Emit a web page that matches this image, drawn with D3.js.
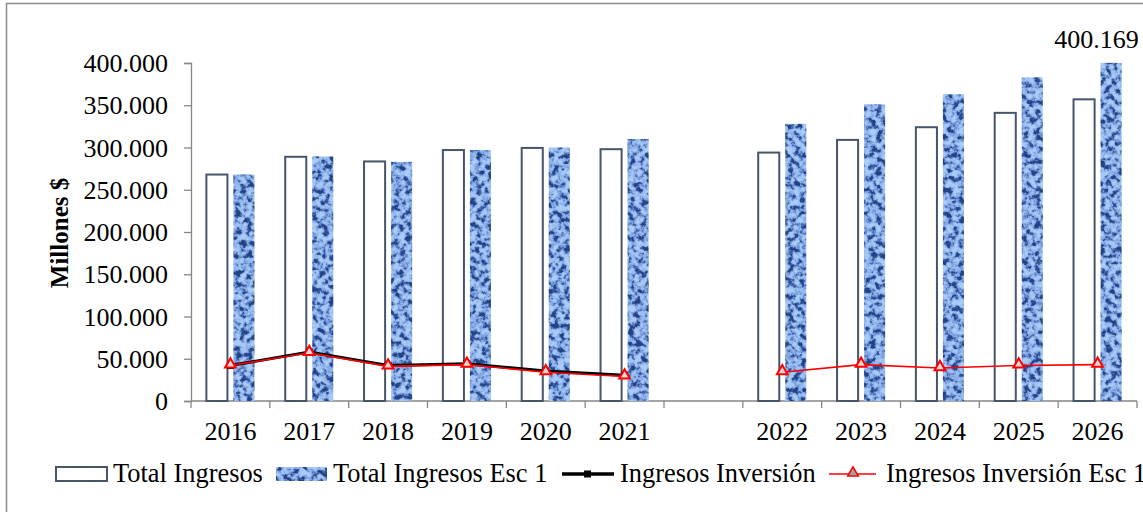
<!DOCTYPE html>
<html>
<head>
<meta charset="utf-8">
<script src="https://cdn.jsdelivr.net/npm/d3@7"></script>
<style>
  body { margin: 0; background: #fff; }
  text { font-family: "Liberation Serif", "Times New Roman", serif; fill: #000; }
</style>
</head>
<body>
<div id="chart"></div>
<script>
'use strict';

// Data
const years = ['2016', '2017', '2018', '2019', '2020', '2021', '', '2022', '2023', '2024', '2025', '2026'];
const totalIngresos = [268000, 289000, 283500, 297000, 299500, 298000, null, 294000, 309000, 324000, 341000, 357000];
const totalIngresosEsc1 = [268000, 289500, 283000, 297000, 300000, 310000, null, 328000, 351000, 363000, 383000, 400169];
const ingresosInversion = [42000, 58000, 42000, 44000, 35500, 30500, null, null, null, null, null, null];
const ingresosInversionEsc1 = [42000, 57000, 41000, 43000, 34000, 29000, null, 34000, 43000, 39000, 42000, 43000];
const yTicks = [0, 50000, 100000, 150000, 200000, 250000, 300000, 350000, 400000];
const legendLabels = ['Total Ingresos', 'Total Ingresos Esc 1', 'Ingresos Inversión', 'Ingresos Inversión Esc 1'];

// Config
const svgW = 1143, svgH = 512;
const plot = {left: 191, right: 1137, top: 63, bottom: 401};
const fontSize = '26px';
const es = d3.formatLocale({decimal: ',', thousands: '.', grouping: [3], currency: ['$', '']});
const fmt = es.format(',.0f');

const svg = d3.select('#chart').append('svg')
    .attr('width', svgW)
    .attr('height', svgH);

// Texture for the Esc 1 bars
const defs = svg.append('defs');
const f = defs.append('filter')
    .attr('id', 'tex')
    .attr('color-interpolation-filters', 'sRGB')
    .attr('x', 0).attr('y', 0).attr('width', 1).attr('height', 1);
f.append('feTurbulence')
    .attr('type', 'fractalNoise')
    .attr('baseFrequency', 0.17)
    .attr('numOctaves', 3)
    .attr('seed', 7)
    .attr('result', 'noise');
f.append('feColorMatrix')
    .attr('in', 'noise')
    .attr('type', 'matrix')
    .attr('values', '2.6 0 0 0 -0.8  2.6 0 0 0 -0.8  2.6 0 0 0 -0.8  0 0 0 0 1')
    .attr('result', 'lum');
const ct = f.append('feComponentTransfer').attr('in', 'lum').attr('result', 'col');
ct.append('feFuncR').attr('type', 'table').attr('tableValues', '0.14 0.26 0.45 0.57 0.63 0.67');
ct.append('feFuncG').attr('type', 'table').attr('tableValues', '0.26 0.39 0.60 0.71 0.76 0.80');
ct.append('feFuncB').attr('type', 'table').attr('tableValues', '0.52 0.66 0.85 0.93 0.95 0.97');
f.append('feComposite')
    .attr('in', 'col')
    .attr('in2', 'SourceGraphic')
    .attr('operator', 'in');

// Frame
svg.append('rect')
    .attr('x', 6.5).attr('y', 3.5)
    .attr('width', 1300).attr('height', 700)
    .attr('fill', 'none')
    .attr('stroke', '#8a8a8a')
    .attr('stroke-width', 1.5);

// Scales
const x = d3.scaleBand().domain(d3.range(years.length)).range([plot.left, plot.right]);
const inner = d3.scaleBand().domain([0, 1])
    .range([x.bandwidth() * 0.195, x.bandwidth() * 0.805])
    .paddingInner(0.22);
const y = d3.scaleLinear().domain([0, 400000]).range([plot.bottom, plot.top]);

// Y axis
const yAxis = svg.append('g')
    .attr('transform', `translate(${plot.left},0)`)
    .call(d3.axisLeft(y).tickValues(yTicks).tickFormat(fmt).tickSize(7).tickPadding(16));
yAxis.select('.domain').attr('stroke', '#868686').attr('stroke-width', 1.3);
yAxis.selectAll('.tick line').attr('stroke', '#868686').attr('stroke-width', 1.3);
yAxis.selectAll('.tick text')
    .style('font-family', '"Liberation Serif", serif')
    .style('font-size', fontSize)
    .attr('fill', '#000')
    .attr('dy', '0.33em');

// X axis line + boundary ticks
svg.append('line')
    .attr('x1', plot.left).attr('x2', plot.right)
    .attr('y1', plot.bottom).attr('y2', plot.bottom)
    .attr('stroke', '#868686').attr('stroke-width', 1.3);
svg.append('g').selectAll('line')
    .data(d3.range(years.length + 1))
    .join('line')
    .attr('x1', i => i < years.length ? x(i) : plot.right)
    .attr('x2', i => i < years.length ? x(i) : plot.right)
    .attr('y1', plot.bottom).attr('y2', plot.bottom + 7)
    .attr('stroke', '#868686').attr('stroke-width', 1.3);
svg.append('g').selectAll('text')
    .data(years)
    .join('text')
    .attr('x', (d, i) => x(i) + x.bandwidth() / 2)
    .attr('y', 440)
    .attr('text-anchor', 'middle')
    .style('font-size', fontSize)
    .text(d => d);

// Y axis title
svg.append('text')
    .attr('transform', 'translate(68,233) rotate(-90)')
    .attr('text-anchor', 'middle')
    .style('font-size', '25px')
    .style('font-weight', 'bold')
    .text('Millones $');

// Bars
const barsG = svg.append('g');
barsG.selectAll('.bar0')
    .data(totalIngresos.map((v, i) => ({v, i})).filter(d => d.v != null))
    .join('rect')
    .attr('class', 'bar0')
    .attr('x', d => x(d.i) + inner(0))
    .attr('y', d => y(d.v))
    .attr('width', inner.bandwidth())
    .attr('height', d => y(0) - y(d.v))
    .attr('fill', '#fff')
    .attr('stroke', '#475569')
    .attr('stroke-width', 2);
barsG.selectAll('.bar1')
    .data(totalIngresosEsc1.map((v, i) => ({v, i})).filter(d => d.v != null))
    .join('rect')
    .attr('class', 'bar1')
    .attr('x', d => x(d.i) + inner(1))
    .attr('y', d => y(d.v))
    .attr('width', inner.bandwidth())
    .attr('height', d => y(0) - y(d.v))
    .attr('fill', '#6f8fd0')
    .attr('filter', 'url(#tex)');

// Data label on last Esc 1 bar
const last = totalIngresosEsc1.length - 1;
svg.append('text')
    .attr('x', x(last) + inner(1) + inner.bandwidth() + 17)
    .attr('y', y(totalIngresosEsc1[last]) - 15)
    .attr('text-anchor', 'end')
    .style('font-size', fontSize)
    .text(fmt(totalIngresosEsc1[last]));

// Lines
const cx = i => x(i) + x.bandwidth() / 2;
const lineMaker = d3.line()
    .defined(d => d != null)
    .x((d, i) => cx(i))
    .y(d => y(d));

svg.append('path')
    .attr('d', lineMaker(ingresosInversion))
    .attr('fill', 'none')
    .attr('stroke', '#000')
    .attr('stroke-width', 3);
svg.append('g').selectAll('rect')
    .data(ingresosInversion.map((v, i) => ({v, i})).filter(d => d.v != null))
    .join('rect')
    .attr('x', d => cx(d.i) - 3.5)
    .attr('y', d => y(d.v) - 3.5)
    .attr('width', 7).attr('height', 7)
    .attr('fill', '#000');

svg.append('path')
    .attr('d', lineMaker(ingresosInversionEsc1))
    .attr('fill', 'none')
    .attr('stroke', '#ff0000')
    .attr('stroke-width', 1.6);
const tri = d3.symbol().type(d3.symbolTriangle).size(50);
svg.append('g').selectAll('path')
    .data(ingresosInversionEsc1.map((v, i) => ({v, i})).filter(d => d.v != null))
    .join('path')
    .attr('d', tri)
    .attr('transform', d => `translate(${cx(d.i)},${y(d.v) - 1})`)
    .attr('fill', '#f4d4d4')
    .attr('stroke', '#ff0000')
    .attr('stroke-width', 2);

// Legend
const legY = 482;
const legX = [56, 276, 562, 829];
const leg = svg.append('g');
// Total Ingresos
leg.append('rect')
    .attr('x', legX[0]).attr('y', legY - 15)
    .attr('width', 51).attr('height', 14)
    .attr('fill', '#fff').attr('stroke', '#475569').attr('stroke-width', 2);
// Esc 1
leg.append('rect')
    .attr('x', legX[1]).attr('y', legY - 15)
    .attr('width', 51).attr('height', 14)
    .attr('fill', '#6f8fd0').attr('filter', 'url(#tex)');
// Inversión
leg.append('line')
    .attr('x1', legX[2]).attr('x2', legX[2] + 52)
    .attr('y1', legY - 8).attr('y2', legY - 8)
    .attr('stroke', '#000').attr('stroke-width', 3.5);
leg.append('rect')
    .attr('x', legX[2] + 22).attr('y', legY - 11.5)
    .attr('width', 7).attr('height', 7).attr('fill', '#000');
// Inversión Esc 1
leg.append('line')
    .attr('x1', legX[3]).attr('x2', legX[3] + 47)
    .attr('y1', legY - 8).attr('y2', legY - 8)
    .attr('stroke', '#ff0000').attr('stroke-width', 1.6);
leg.append('path')
    .attr('d', tri)
    .attr('transform', `translate(${legX[3] + 24},${legY - 9})`)
    .attr('fill', '#a0a0a0').attr('stroke', '#ff0000').attr('stroke-width', 1.5);

const legTextX = [legX[0] + 57, legX[1] + 57, legX[2] + 58, legX[3] + 57];
leg.selectAll('.legText')
    .data(legendLabels)
    .join('text')
    .attr('class', 'legText')
    .attr('x', (d, i) => legTextX[i])
    .attr('y', legY)
    .style('font-size', '26.4px')
    .text(d => d);
</script>
</body>
</html>
